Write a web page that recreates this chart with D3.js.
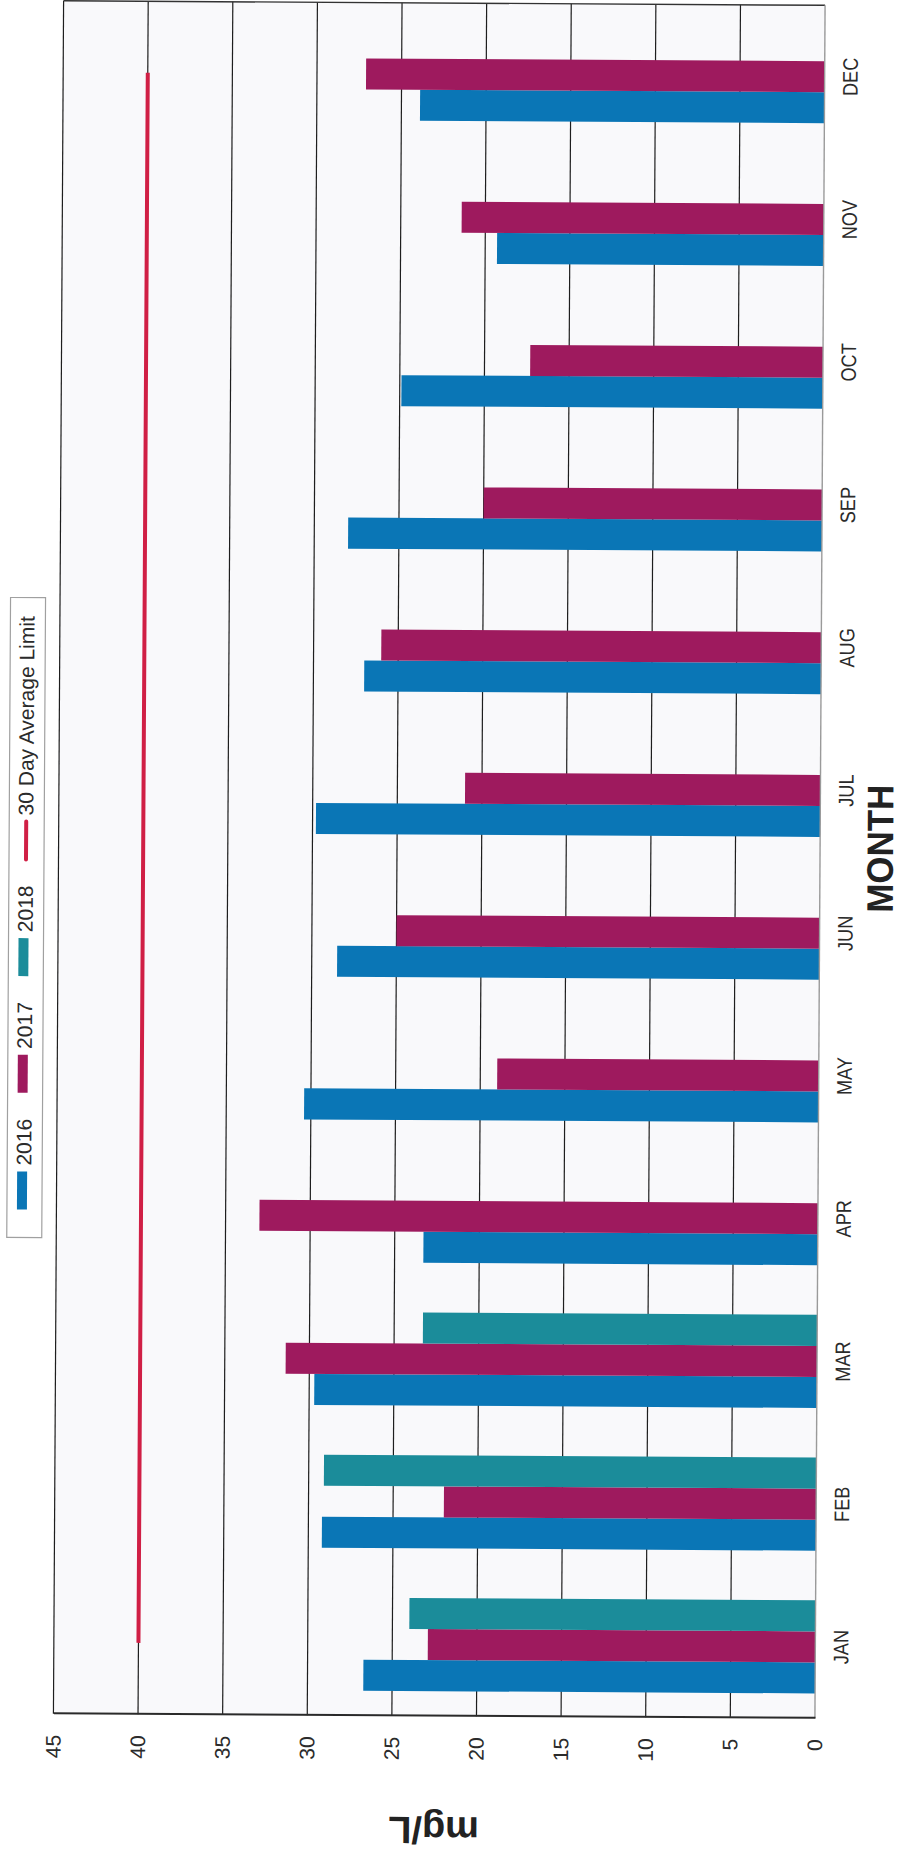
<!DOCTYPE html>
<html>
<head>
<meta charset="utf-8">
<script src="https://cdn.jsdelivr.net/npm/d3@7"></script>
<style>
  html, body { margin: 0; padding: 0; background: #ffffff; }
  svg { display: block; font-family: "Liberation Sans", Arial, sans-serif; }
</style>
</head>
<body>
<svg id="chart" width="903" height="1853"></svg>
<script>
// Monthly concentrations (mg/L) by year, plus the permit limit
const months = ["JAN", "FEB", "MAR", "APR", "MAY", "JUN", "JUL", "AUG", "SEP", "OCT", "NOV", "DEC"];
const years = ["2016", "2017", "2018"];
const values2016 = [26.7, 29.2, 29.7, 23.3, 30.4, 28.5, 29.8, 27.0, 28.0, 24.9, 19.3, 23.9];
const values2017 = [22.9, 22.0, 31.4, 33.0, 19.0, 25.0, 21.0, 26.0, 20.0, 17.3, 21.4, 27.1];
const values2018 = [24.0, 29.1, 23.3, null, null, null, null, null, null, null, null, null];
const limit30Day = [40, 40, 40, 40, 40, 40, 40, 40, 40, 40, 40, 40];
const valueTicks = [0, 5, 10, 15, 20, 25, 30, 35, 40, 45];
const limitLabel = "30 Day Average Limit";

const seriesColors = { "2016": "#0a76b6", "2017": "#9e1a5e", "2018": "#1b8c9a" };
const limitColor = "#d01f45";

const seriesValues = { "2016": values2016, "2017": values2017, "2018": values2018 };

// The chart is laid out landscape (1853 x 903) and turned a quarter turn
// counter-clockwise to fill the portrait page.
const W = 1853, H = 903;
const svg = d3.select("#chart");
const root = svg.append("g")
  .attr("transform", `rotate(0.34, 434, 860) translate(0, ${W}) rotate(-90)`);

const plot = { left: 137, right: 1850 };

const x0 = d3.scaleBand()
  .domain(months)
  .range([plot.left, plot.right])
  .paddingInner(0.348)
  .paddingOuter(0.174);

const x1 = d3.scaleBand()
  .domain(years)
  .range([0, x0.bandwidth()]);

const y = d3.scaleLinear()
  .domain([0, 45])
  .range([820, 58.5]);

// plot background
root.append("rect")
  .attr("x", plot.left).attr("y", y(45))
  .attr("width", plot.right - plot.left).attr("height", y(0) - y(45))
  .attr("fill", "#f9f9fb");

// horizontal gridlines (5 .. 45)
root.append("g").selectAll("line")
  .data(valueTicks.filter(t => t > 0))
  .join("line")
  .attr("x1", plot.left).attr("x2", plot.right)
  .attr("y1", d => y(d)).attr("y2", d => y(d))
  .attr("stroke", "#1e1e1e")
  .attr("stroke-width", 1.2);

// right frame edge
root.append("line")
  .attr("x1", plot.right).attr("x2", plot.right)
  .attr("y1", y(0)).attr("y2", y(45))
  .attr("stroke", "#333").attr("stroke-width", 1.4);

// bars
const groups = root.append("g").selectAll("g")
  .data(months)
  .join("g")
  .attr("transform", d => `translate(${x0(d)},0)`);

groups.selectAll("rect")
  .data((m, i) => years.map(yr => ({ year: yr, value: seriesValues[yr][i] })).filter(d => d.value != null))
  .join("rect")
  .attr("x", d => x1(d.year))
  .attr("width", x1.bandwidth())
  .attr("y", d => y(d.value))
  .attr("height", d => y(0) - y(d.value))
  .attr("fill", d => seriesColors[d.year]);

// baseline at zero
root.append("line")
  .attr("x1", plot.left).attr("x2", plot.right)
  .attr("y1", y(0)).attr("y2", y(0))
  .attr("stroke", "#9a9a9a").attr("stroke-width", 1.4);

// 30-day average limit line
const limitLine = d3.line()
  .x((d, i) => x0(months[i]) + x0.bandwidth() / 2)
  .y(d => y(d));

root.append("path")
  .datum(limit30Day)
  .attr("d", limitLine)
  .attr("fill", "none")
  .attr("stroke", limitColor)
  .attr("stroke-width", 4);

// value axis
const yAxis = d3.axisLeft(y)
  .tickValues(valueTicks)
  .tickSize(0)
  .tickPadding(21);

const yAxisG = root.append("g")
  .attr("transform", `translate(${plot.left},0)`)
  .call(yAxis);
yAxisG.select(".domain").attr("stroke", "#2a2a2a").attr("stroke-width", 2);
yAxisG.selectAll("text")
  .attr("font-size", 21)
  .attr("fill", "#2b2b2b")
  .attr("font-family", "'Liberation Sans', Arial, sans-serif");

// month labels
root.append("g").selectAll("text")
  .data(months)
  .join("text")
  .attr("transform", d => `translate(${x0(d) + x0.bandwidth() / 2}, 853) scale(0.86,1)`)
  .attr("text-anchor", "middle")
  .attr("font-size", 21)
  .attr("fill", "#2b2b2b")
  .text(d => d);

// axis titles
root.append("text")
  .attr("transform", "translate(1007, 893)")
  .attr("text-anchor", "middle")
  .attr("font-size", 37)
  .attr("font-weight", "bold")
  .attr("textLength", 128)
  .attr("lengthAdjust", "spacingAndGlyphs")
  .attr("fill", "#222")
  .text("MONTH");

root.append("text")
  .attr("transform", `translate(36, ${(y(0) + y(45)) / 2}) rotate(-90)`)
  .attr("text-anchor", "middle")
  .attr("font-size", 38)
  .attr("font-weight", "bold")
  .attr("fill", "#222")
  .text("mg/L");

// legend
const legend = root.append("g");
legend.append("rect")
  .attr("x", 613).attr("y", 9)
  .attr("width", 640).attr("height", 35)
  .attr("fill", "#ffffff")
  .attr("stroke", "#a0a0a0")
  .attr("stroke-width", 1.2);

const legendItems = years.map(yr => ({ label: yr, color: seriesColors[yr], kind: "bar" }))
  .concat([{ label: limitLabel, color: limitColor, kind: "line" }]);

let lx = 641;
legendItems.forEach(item => {
  if (item.kind === "bar") {
    legend.append("rect")
      .attr("x", lx).attr("y", 19)
      .attr("width", 38).attr("height", 10)
      .attr("fill", item.color);
  } else {
    legend.append("line")
      .attr("x1", lx).attr("x2", lx + 38)
      .attr("y1", 26).attr("y2", 26)
      .attr("stroke", item.color)
      .attr("stroke-width", 4)
      .attr("stroke-linecap", "round");
  }
  const t = legend.append("text")
    .attr("x", lx + 44).attr("y", 33)
    .attr("font-size", 21)
    .attr("fill", "#2b2b2b")
    .text(item.label);
  lx += 44 + t.node().getComputedTextLength() + 26;
});
</script>
</body>
</html>
